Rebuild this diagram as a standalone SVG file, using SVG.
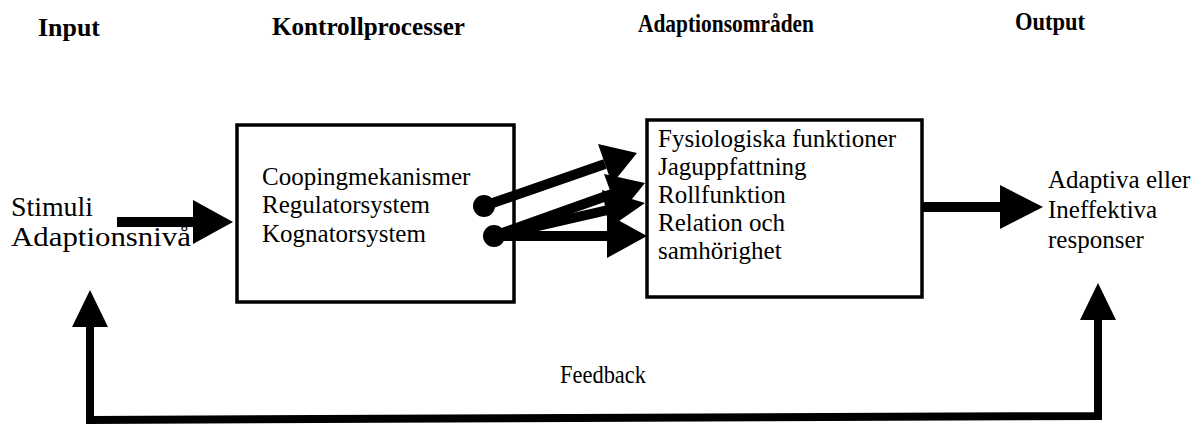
<svg xmlns="http://www.w3.org/2000/svg" width="1203" height="425" viewBox="0 0 1203 425">
<defs>
<style>
.t{font-family:"Liberation Serif","Times New Roman",serif;font-size:25px;fill:#000}
.s{font-family:"Liberation Serif","Times New Roman",serif;font-size:27px;fill:#000}
.h{font-family:"Liberation Serif","Times New Roman",serif;font-size:26px;font-weight:bold;fill:#000}
.box{fill:#fff;stroke:#000;stroke-width:3.5}
.ln{stroke:#000;stroke-width:10;fill:none}
.fb{stroke:#000;stroke-width:8;fill:none}
.hd{fill:#000}
</style>
</defs>
<rect width="1203" height="425" fill="#fff"/>
<g id="titles">
<text class="h" x="38" y="36" textLength="62" lengthAdjust="spacingAndGlyphs">Input</text>
<text class="h" x="272" y="35" textLength="193" lengthAdjust="spacingAndGlyphs">Kontrollprocesser</text>
<text class="h" x="638" y="32" textLength="176" lengthAdjust="spacingAndGlyphs">Adaptionsområden</text>
<text class="h" x="1015" y="30" textLength="70" lengthAdjust="spacingAndGlyphs">Output</text>
</g>
<g id="input">
<text class="s" x="11" y="216" textLength="82" lengthAdjust="spacingAndGlyphs">Stimuli</text>
<text class="s" x="11" y="246" textLength="180" lengthAdjust="spacingAndGlyphs">Adaptionsnivå</text>
</g>
<g id="kontroll">
<rect class="box" x="237" y="125" width="277" height="177"/>
<text class="t" x="262" y="185">Coopingmekanismer</text>
<text class="t" x="262" y="213">Regulatorsystem</text>
<text class="t" x="262" y="242">Kognatorsystem</text>
</g>
<g id="adaption">
<rect class="box" x="647" y="120" width="275" height="177"/>
<text class="t" x="658" y="147">Fysiologiska funktioner</text>
<text class="t" x="658" y="175">Jaguppfattning</text>
<text class="t" x="658" y="203">Rollfunktion</text>
<text class="t" x="658" y="231">Relation och</text>
<text class="t" x="658" y="259">samhörighet</text>
</g>
<g id="output">
<text class="t" x="1048" y="188">Adaptiva eller</text>
<text class="t" x="1048" y="218">Ineffektiva</text>
<text class="t" x="1048" y="248">responser</text>
</g>
<g id="feedback-label">
<text class="t" x="560" y="383" textLength="86" lengthAdjust="spacingAndGlyphs">Feedback</text>
</g>
<g id="connectors">
<line class="ln" x1="117" y1="222" x2="195" y2="222"/>
<polygon class="hd" points="193,200 233,222 193,244"/>
<line class="ln" x1="922" y1="207" x2="1002" y2="207"/>
<polygon class="hd" points="1000,185 1043,207 1000,229"/>
<circle class="hd" cx="484" cy="206" r="11"/>
<circle class="hd" cx="494" cy="236" r="11"/>
<line class="ln" x1="484" y1="206" x2="605" y2="164"/>
<polygon class="hd" points="598,144 637,153 612,184"/>
<line class="ln" x1="494" y1="236" x2="612" y2="194"/>
<polygon class="hd" points="604,174 645,183 619,215"/>
<line class="ln" x1="494" y1="236" x2="608" y2="210"/>
<polygon class="hd" points="602,190 645,203 609,228"/>
<line class="ln" x1="494" y1="236" x2="610" y2="236"/>
<polygon class="hd" points="607,214 647,236 607,258"/>
<polyline class="fb" points="90,325 90,420 1098,416 1098,318"/>
<polygon class="hd" points="72,327 90,290 108,327"/>
<polygon class="hd" points="1080,320 1098,283 1116,320"/>
</g>
</svg>
